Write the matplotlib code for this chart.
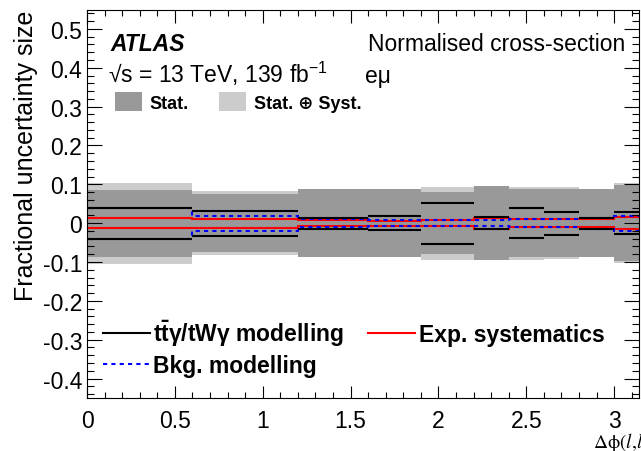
import numpy as np
import matplotlib
matplotlib.use("Agg")
import matplotlib.pyplot as plt
from matplotlib.lines import Line2D
from matplotlib.patches import Patch
from matplotlib.ticker import MultipleLocator, FormatStrFormatter

plt.rcParams['font.family'] = ['Liberation Sans', 'DejaVu Sans']
plt.rcParams['mathtext.default'] = 'regular'
plt.rcParams['axes.unicode_minus'] = False

# bin edges in delta phi(l,l)
edges = [0, 0.6, 1.2, 1.6, 1.9, 2.2, 2.4, 2.6, 2.8, 3.0, np.pi]

# fractional uncertainties (symmetric, +/-)
stat_unc = [0.086, 0.074, 0.087, 0.087, 0.080, 0.095, 0.087, 0.088, 0.087, 0.097]
total_unc = [0.104, 0.082, 0.088, 0.088, 0.094, 0.096, 0.094, 0.093, 0.088, 0.103]
sig_model = [0.040, 0.032, 0.014, 0.018, 0.053, 0.016, 0.038, 0.030, 0.014, 0.028]
exp_syst = [0.013, 0.012, 0.008, 0.006, 0.007, 0.014, 0.011, 0.011, 0.011, 0.016]
bkg_model = [0.040, 0.019, 0.011, 0.007, 0.007, 0.008, 0.011, 0.011, 0.014, 0.019]

W, H = 641, 452
fig = plt.figure(figsize=(W / 100, H / 100), dpi=100)
ax = fig.add_axes([87 / W, 1 - 399 / H, (639 - 87) / W, (399 - 10.5) / H])

tot = np.array(total_unc)
st = np.array(stat_unc)
ax.stairs(tot, edges, baseline=-tot, fill=True, color='#cccccc', lw=0)
ax.stairs(st, edges, baseline=-st, fill=True, color='#999999', lw=0)

sig = np.array(sig_model)
ax.hlines(sig, edges[:-1], edges[1:], color='black', lw=1.5)
ax.hlines(-sig, edges[:-1], edges[1:], color='black', lw=1.5)

ex = np.array(exp_syst)
ax.stairs(ex, edges, baseline=None, color='red', lw=1.5)
ax.stairs(-ex, edges, baseline=None, color='red', lw=1.5)

bk = np.array(bkg_model)
ax.stairs(bk, edges, baseline=None, color='blue', lw=1.5, ls=(0, (2, 2)))
ax.stairs(-bk, edges, baseline=None, color='blue', lw=1.5, ls=(0, (2, 2)))

ax.set_xlim(0, np.pi)
ax.set_ylim(-0.45, 0.55)
ax.xaxis.set_major_locator(MultipleLocator(0.5))
ax.xaxis.set_minor_locator(MultipleLocator(0.1))
ax.yaxis.set_major_locator(MultipleLocator(0.1))
ax.yaxis.set_minor_locator(MultipleLocator(0.02))
ax.xaxis.set_major_formatter(FormatStrFormatter('%g'))
ax.yaxis.set_major_formatter(FormatStrFormatter('%g'))
for s in ax.spines.values():
    s.set_linewidth(0.8)
ax.tick_params(which='both', direction='in', top=True, right=True,
               labelsize=16.5, width=0.8)
ax.tick_params(axis='y', which='major', length=11, pad=3.5)
ax.tick_params(axis='y', which='minor', length=5)
ax.tick_params(axis='x', which='major', length=9, pad=8)
ax.tick_params(axis='x', which='minor', length=4.5)

ax.set_ylabel('Fractional uncertainty size', fontsize=18, loc='top')
ax.yaxis.set_label_coords(-(87 - 38) / 552, 1.0)
fig.text(593 / W, 1 - 443 / H, r'$\mathrm{\Delta\phi(}\mathit{l}\mathrm{,}\mathit{l}\mathrm{)}$',
         fontsize=14, math_fontfamily='stix', va='center', ha='left')

fig.text(110 / W, 1 - 51 / H, 'ATLAS', fontsize=16.5, weight='bold', style='italic')
fig.text(108 / W, 1 - 83 / H, '√s = 13 TeV, 139 fb$^{-1}$', fontsize=16.5)
fig.text(625 / W, 1 - 51 / H, 'Normalised cross-section', fontsize=16.5, ha='right')
fig.text(365 / W, 1 - 83 / H, 'eμ', fontsize=16.5)

# uncertainty band legend
band_leg = ax.legend(
    [Patch(facecolor='#999999', edgecolor='none'), Patch(facecolor='#cccccc', edgecolor='none')],
    ['Stat.', 'Stat. ⊕ Syst.'], ncol=2, loc='upper left',
    bbox_to_anchor=(115 / W, 1 - 93 / H), bbox_transform=fig.transFigure,
    frameon=False, prop=dict(weight='bold', size=13),
    handlelength=1.5, handleheight=1.25, handletextpad=0.4, columnspacing=1.7,
    borderpad=0, borderaxespad=0)
ax.add_artist(band_leg)

line_handles = [Line2D([], [], color='black', lw=1.5),
                Line2D([], [], color='blue', lw=1.5, ls=(0, (2, 2))),
                Line2D([], [], color='red', lw=1.5)]
line_labels = [r't$\bar{t}\gamma$/tW$\gamma$ modelling', 'Bkg. modelling', 'Exp. systematics']
ax.legend(line_handles, line_labels, ncol=2, loc='upper left',
          bbox_to_anchor=(103 / W, 1 - 319 / H), bbox_transform=fig.transFigure,
          frameon=False, prop=dict(weight='bold', size=16.5),
          handlelength=2.05, handletextpad=0.15, columnspacing=1.05,
          labelspacing=0.25, borderpad=0, borderaxespad=0)

fig.savefig('out.png', dpi=100)
